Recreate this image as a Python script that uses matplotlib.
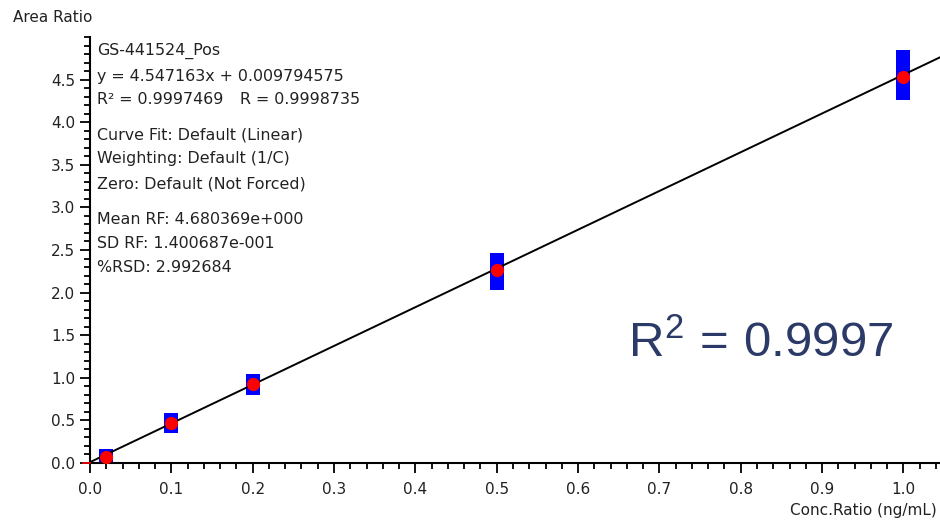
import numpy as np
import matplotlib
matplotlib.use("Agg")
import matplotlib.pyplot as plt

# calibration points (conc ratio, area ratio) and the blue range boxes
conc = [0.02, 0.1, 0.2, 0.5, 1.0]
area = [0.065, 0.47, 0.93, 2.27, 4.53]
box_low = [0.0, 0.35, 0.80, 2.03, 4.26]
box_high = [0.165, 0.59, 1.05, 2.47, 4.85]

slope = 4.547163
intercept = 0.009794575

info_lines = [
    ("GS-441524_Pos", 51),
    ("y = 4.547163x + 0.009794575", 77),
    ("R\u00b2 = 0.9997469", 100),
    ("Curve Fit: Default (Linear)", 135),
    ("Weighting: Default (1/C)", 159),
    ("Zero: Default (Not Forced)", 184),
    ("Mean RF: 4.680369e+000", 219),
    ("SD RF: 1.400687e-001", 243),
    ("%RSD: 2.992684", 268),
]

plt.rcParams['font.family'] = ['DejaVu Sans']
plt.rcParams['mathtext.fontset'] = 'custom'
plt.rcParams['mathtext.rm'] = 'Liberation Sans'
plt.rcParams['mathtext.it'] = 'Liberation Sans'

W, H = 940, 520
fig = plt.figure(figsize=(9.4, 5.2), dpi=100)
ax = fig.add_axes([90 / W, 1 - 463 / H, (W - 90) / W, (463 - 37) / H])

xmax = 1.045
ax.set_xlim(0, xmax)
ax.set_ylim(0, 5.0)

# blue boxes
low = np.array(box_low)
high = np.array(box_high)
ax.bar(conc, high - low, bottom=low, width=0.0172, color='#0000ff', zorder=2)

# fit line
xs = np.array([0, xmax])
ax.plot(xs, slope * xs + intercept, color='black', lw=1.4, zorder=3)
ax.plot([-0.008, 0], [0, 0], color='red', lw=1.2, clip_on=False, zorder=3)

# points
ax.plot(conc, area, 'o', color='#ff0000', ms=9.5, mec='none', zorder=4)

for side in ['top', 'right']:
    ax.spines[side].set_visible(False)
for side in ['left', 'bottom']:
    ax.spines[side].set_linewidth(1.5)

ax.set_xticks(np.arange(0, 1.01, 0.1))
ax.set_xticks(np.arange(0, 1.045, 0.02), minor=True)
ax.set_yticks(np.arange(0, 4.51, 0.5))
ax.set_yticks(np.arange(0, 5.01, 0.1), minor=True)
ax.tick_params(which='major', length=7.5, width=1.3, labelsize=11, pad=3, colors='black')
ax.tick_params(which='minor', length=4, width=1.3)
ax.tick_params(axis='y', labelcolor='#222222')
ax.tick_params(axis='x', labelcolor='#222222', pad=6)

fig.text(13 / W, 1 - 18 / H, "Area Ratio", fontsize=11, va='center', ha='left', color='#222222')
fig.text(937 / W, 1 - 511 / H, "Conc.Ratio (ng/mL)", fontsize=11, va='center', ha='right', color='#222222')

for txt, ypix in info_lines:
    fig.text(97 / W, 1 - ypix / H, txt, fontsize=11.4, va='center', ha='left', color='#222222')
fig.text(240 / W, 1 - 100 / H, "R = 0.9998735", fontsize=11.4, va='center', ha='left', color='#222222')

fig.text(628 / W, 1 - 343 / H, r'$\mathrm{R}^{2}\,=\,0.9997$', fontsize=35.5,
         va='center', ha='left', color='#2b3a66')

fig.savefig("out.png", dpi=100)
